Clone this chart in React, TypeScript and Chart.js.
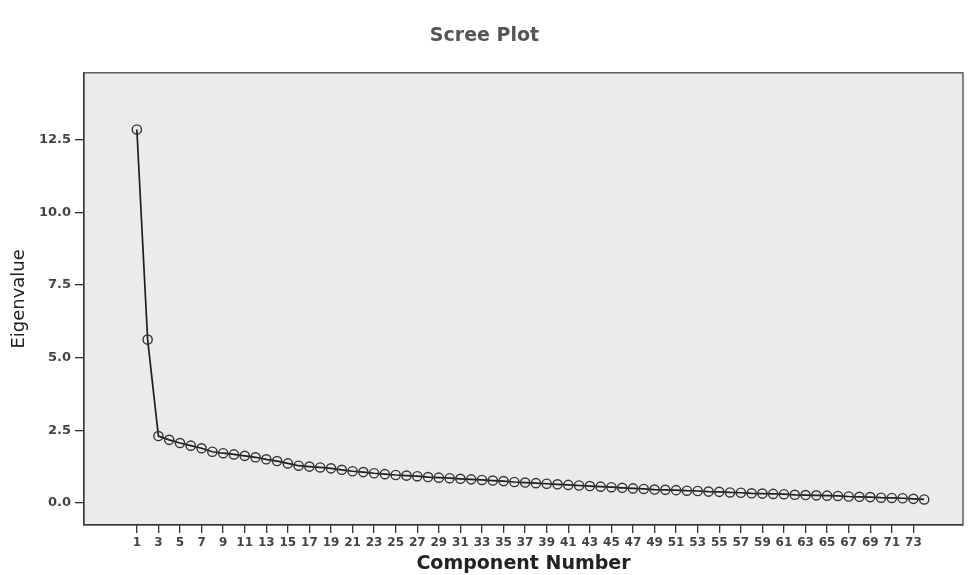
import React, { useEffect, useRef } from "react";
import { Chart, registerables } from "chart.js";

Chart.register(...registerables);

const components: number[] = Array.from({ length: 74 }, (_, i) => i + 1);
const eigenvalues: number[] = [
  12.85, 5.62, 2.3, 2.17, 2.06, 1.97, 1.88, 1.76, 1.71, 1.67,
  1.62, 1.57, 1.5, 1.44, 1.36, 1.28, 1.25, 1.22, 1.19, 1.14,
  1.09, 1.06, 1.02, 0.99, 0.96, 0.94, 0.92, 0.89, 0.87, 0.85,
  0.83, 0.81, 0.79, 0.77, 0.75, 0.72, 0.7, 0.68, 0.66, 0.64,
  0.62, 0.6, 0.58, 0.56, 0.54, 0.52, 0.5, 0.48, 0.46, 0.45,
  0.44, 0.42, 0.41, 0.39, 0.38, 0.36, 0.35, 0.33, 0.32, 0.31,
  0.3, 0.28, 0.27, 0.26, 0.25, 0.24, 0.22, 0.21, 0.2, 0.18,
  0.17, 0.16, 0.14, 0.12,
];
const xTickValues: number[] = Array.from({ length: 37 }, (_, i) => 1 + i * 2);
const yTickValues: number[] = [0, 2.5, 5, 7.5, 10, 12.5];

const FONT = "'DejaVu Sans', Verdana, sans-serif";

const plotBg = {
  id: "plotBg",
  beforeDraw(chart: any) {
    const { ctx, chartArea } = chart;
    ctx.save();
    ctx.fillStyle = "#ebebeb";
    ctx.fillRect(chartArea.left, chartArea.top, chartArea.right - chartArea.left, chartArea.bottom - chartArea.top);
    ctx.restore();
  },
  afterDraw(chart: any) {
    const { ctx, chartArea } = chart;
    ctx.save();
    ctx.strokeStyle = "#3a3a3a";
    ctx.lineWidth = 1.2;
    ctx.strokeRect(chartArea.left, chartArea.top, chartArea.right - chartArea.left, chartArea.bottom - chartArea.top);
    ctx.restore();
  },
};

export default function App() {
  const ref = useRef<HTMLCanvasElement | null>(null);
  useEffect(() => {
    if (!ref.current) return;
    const chart = new Chart(ref.current, {
      type: "line",
      data: {
        datasets: [
          {
            data: components.map((c, i) => ({ x: c, y: eigenvalues[i] })),
            borderColor: "#1e1e1e",
            borderWidth: 1.7,
            pointRadius: 4.6,
            pointBorderWidth: 1.4,
            pointBorderColor: "#333",
            pointBackgroundColor: "rgba(0,0,0,0)",
            tension: 0,
          },
        ],
      },
      options: {
        animation: false,
        responsive: true,
        maintainAspectRatio: false,
        layout: { padding: { left: 0, right: 0, top: 0, bottom: 0 } },
        plugins: {
          legend: { display: false },
          tooltip: { enabled: false },
          title: {
            display: true,
            text: "Scree Plot",
            color: "#555",
            font: { family: FONT, size: 19, weight: "bold" },
            padding: { top: 25, bottom: 25 },
          },
        },
        scales: {
          x: {
            type: "linear",
            min: -3.9,
            max: 77.6,
            afterBuildTicks: (scale: any) => {
              scale.ticks = xTickValues.map((v) => ({ value: v }));
            },
            afterFit: (scale: any) => {
              scale.height = 50;
            },
            grid: { display: true, drawOnChartArea: false, drawTicks: true, tickLength: 8, color: "#333", lineWidth: 1.3 },
            border: { display: true, color: "#333", width: 1.2 },
            ticks: {
              autoSkip: false,
              maxRotation: 0,
              padding: 3,
              color: "#444",
              font: { family: FONT, size: 12, weight: "bold" },
              callback: (v: any) => String(v),
            },
            title: {
              display: true,
              text: "Component Number",
              color: "#222",
              font: { family: FONT, size: 19, weight: "bold" },
              padding: { top: 0, bottom: 0 },
            },
          },
          y: {
            type: "linear",
            min: -0.76,
            max: 14.8,
            afterBuildTicks: (scale: any) => {
              scale.ticks = yTickValues.map((v) => ({ value: v }));
            },
            afterFit: (scale: any) => {
              scale.width = 84;
            },
            grid: { display: true, drawOnChartArea: false, drawTicks: true, tickLength: 9, color: "#333", lineWidth: 1.3 },
            border: { display: true, color: "#333", width: 1.2 },
            ticks: {
              padding: 4,
              color: "#444",
              font: { family: FONT, size: 13, weight: "bold" },
              callback: (v: any) => Number(v).toFixed(1),
            },
            title: {
              display: true,
              text: "Eigenvalue",
              color: "#222",
              font: { family: FONT, size: 18 },
              padding: { top: 9, bottom: 0 },
            },
          },
        },
      } as any,
      plugins: [plotBg],
    });
    return () => chart.destroy();
  }, []);
  return (
    <div style={{ position: "absolute", left: 0, top: 0, width: 969, height: 575, background: "#fff" }}>
      <canvas ref={ref} />
    </div>
  );
}
